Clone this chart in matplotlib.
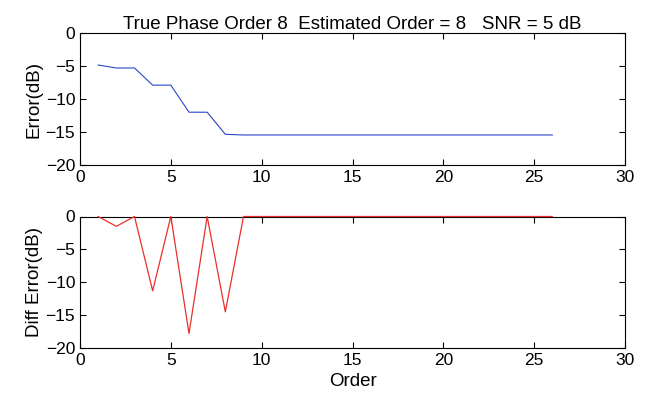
import matplotlib
matplotlib.use("Agg")
import matplotlib.pyplot as plt

plt.rcParams['font.family'] = ['Liberation Sans', 'DejaVu Sans']

orders = list(range(1, 27))
error_db = [-4.85, -5.3, -5.3, -7.9, -7.9, -12.0, -12.0, -15.35] + [-15.45] * 18
diff_error_db = [0, -1.5, 0, -11.3, 0, -17.8, 0, -14.5] + [0] * 18

x_ticks = [0, 5, 10, 15, 20, 25, 30]
y_ticks = [0, -5, -10, -15, -20]

fig = plt.figure(figsize=(6.46, 4.05), dpi=100)
W, H = 646, 405
ax1 = fig.add_axes([80 / W, 1 - 165 / H, 545 / W, 132 / H])
ax2 = fig.add_axes([80 / W, 1 - 348 / H, 545 / W, 131.5 / H])

ax1.plot(orders, error_db, color='#2a45c8', lw=0.8)
ax2.plot(orders, diff_error_db, color='#e8302a', lw=0.9, clip_on=False, zorder=5)

for ax in (ax1, ax2):
    ax.set_xlim(0, 30)
    ax.set_ylim(-20, 0)
    ax.set_xticks(x_ticks)
    ax.set_yticks(y_ticks)
    ax.tick_params(direction='in', top=True, right=True, labelsize=12.5,
                   length=4, width=0.8)
    for s in ax.spines.values():
        s.set_linewidth(0.8)

ax1.set_ylabel('Error(dB)', fontsize=13.5, labelpad=2)
ax2.set_ylabel('Diff Error(dB)', fontsize=13.5, labelpad=2)
ax2.set_xlabel('Order', fontsize=13.5)
ax1.set_title('True Phase Order 8  Estimated Order = 8   SNR = 5 dB', fontsize=13.5, pad=3)

fig.savefig('out.png', dpi=100)
